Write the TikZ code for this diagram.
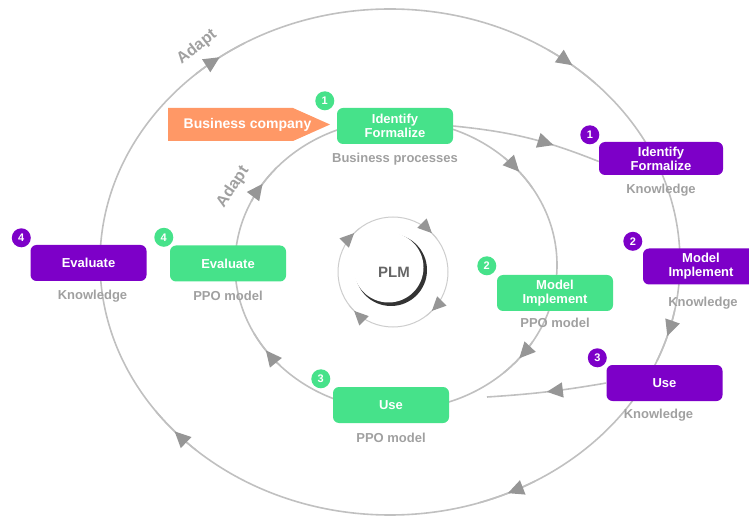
\documentclass[tikz,border=0pt]{standalone}
\usepackage{fontspec}
\setmainfont{Liberation Sans}
\usetikzlibrary{shapes,positioning,arrows.meta,calc,decorations.markings}
\definecolor{ppog}{RGB}{70,226,138}
\definecolor{knwp}{RGB}{125,0,200}
\definecolor{bcor}{RGB}{255,152,102}
\definecolor{rimg}{RGB}{192,192,192}
\definecolor{tipg}{RGB}{150,150,150}
\definecolor{subg}{RGB}{160,160,160}
\tikzset{
	box/.style = { rectangle, rounded corners=6pt, text=white, align=center, font=\fontsize{13}{14}\selectfont\bfseries, minimum width=116pt, minimum height=36pt, inner sep=2pt },
	ppo/.style = { box, fill=ppog },
	knw/.style = { box, fill=knwp },
	nr/.style = { circle, text=white, font=\fontsize{11}{11}\selectfont\bfseries, minimum size=19pt, inner sep=0pt },
	ppon/.style = { nr, fill=ppog },
	knwn/.style = { nr, fill=knwp },
	sub/.style = { text=subg, font=\fontsize{13}{14}\selectfont\bfseries, inner sep=0pt },
	adapt/.style = { text=subg, font=\fontsize{16}{16}\selectfont\bfseries, inner sep=0pt },
	rim/.style = { draw=rimg, line width=1.6pt },
	plmrim/.style = { draw=rimg!80, line width=1pt },
	ringtip/.tip = { Triangle[length=16pt, width=15pt, color=tipg] },
	plmtip/.tip = { Triangle[length=14pt, width=13pt, color=tipg] },
	mid/.style = { postaction={decorate, decoration={markings, mark=at position #1 with {\arrow{ringtip}}}} },
	mid/.default = .5,
	pmid/.style = { postaction={decorate, decoration={markings, mark=at position .5 with {\arrow{plmtip}}}} },
}
\begin{document}
\begin{tikzpicture}[x=1pt, y=1pt, node distance=9pt]
\useasboundingbox (0,0) rectangle (749,517);
\clip (0,0) rectangle (749,517);
\coordinate (oc) at (390,255);
\coordinate (ic) at (396,252);
\coordinate (pc) at (393,245);

% outer and inner cycle
\draw[rim] (oc) ellipse [x radius=290pt, y radius=253pt];
\draw[rim] (ic) ellipse [x radius=161pt, y radius=145pt];
\foreach \a in {126,51,-17,-66,-138}
	\draw[rim, mid] (oc) ++(\a+6:290pt and 253pt) arc [start angle=\a+6, end angle=\a-6, x radius=290pt, y radius=253pt];
\foreach \a in {146,40,-40,-144}
	\draw[rim, mid] (ic) ++(\a+8:161pt and 145pt) arc [start angle=\a+8, end angle=\a-8, x radius=161pt, y radius=145pt];

% boxes
\node (gId)  [ppo] at (395,391)   {Identify \\ Formalize};
\node (gMod) [ppo] at (555,224)   {Model \\ Implement};
\node (gUse) [ppo] at (391,112)   {Use};
\node (gEva) [ppo] at (228,253.5) {Evaluate};
\node (pId)  [knw, minimum width=124pt, minimum height=33pt] at (661,358.5) {Identify \\ Formalize};
\node (pMod) [knw] at (701,250.5) {Model \\ Implement};
\node (pUse) [knw] at (664.5,134) {Use};
\node (pEva) [knw] at (88.5,254)  {Evaluate};

% entry arrow
\fill[bcor] (168,409) -- (293,409) -- (330,392.5) -- (293,376) -- (168,376) -- cycle;
\node (bco) [text=white, font=\fontsize{14}{14}\selectfont\bfseries] at (247.5,392.5) {Business company};

\draw[rim, mid=.68] (gId.east) to[bend left=8] ([yshift=-3pt]pId.west);
\coordinate (uEnd) at (487,120);
\draw[rim, mid] (pUse.west) to[bend left=3] (uEnd);

% step numbers
\node (ngId)  [ppon] at ($(gId.north west)+(-12,7)$)  {1};
\node (ngMod) [ppon] at ($(gMod.north west)+(-10,9)$) {2};
\node (ngUse) [ppon] at ($(gUse.north west)+(-12,8)$) {3};
\node (ngEva) [ppon] at ($(gEva.north west)+(-6,8)$)  {4};
\node (npId)  [knwn] at ($(pId.north west)+(-9,7)$)   {1};
\node (npMod) [knwn] at ($(pMod.north west)+(-10,7)$) {2};
\node (npUse) [knwn] at ($(pUse.north west)+(-9,7)$)  {3};
\node (npEva) [knwn] at ($(pEva.north west)+(-9,7)$)  {4};

% objects
\node (sgId)  [sub, below=of gId]  {Business processes};
\node (sgMod) [sub, below=7pt of gMod] {PPO model};
\node (sgUse) [sub, below=10pt of gUse] {PPO model};
\node (sgEva) [sub, below=of gEva] {PPO model};
\node (spId)  [sub, below=of pId]  {Knowledge};
\node (spMod) [sub, below=12pt of pMod, xshift=2pt] {Knowledge};
\node (spUse) [sub, below=8pt of pUse, xshift=-6pt] {Knowledge};
\node (spEva) [sub, below=of pEva, xshift=4pt] {Knowledge};

\node (ado) [adapt, rotate=38] at (197,470) {Adapt};
\node (adi) [adapt, rotate=56] at (233,330) {Adapt};

% PLM
\draw[plmrim] (pc) circle [radius=55pt];
\foreach \a in {135,45,-45,-135}
	\draw[plmrim, pmid] (pc) ++(\a+8:55pt) arc [start angle=\a+8, end angle=\a-8, radius=55pt];
\fill[black!80] (391,247) circle [radius=36pt];
\fill[white] (388.5,249.5) circle [radius=35pt];
\node (plm) [text=black!60, font=\fontsize{15}{15}\selectfont\bfseries] at (394,245) {PLM};
\end{tikzpicture}
\end{document}
